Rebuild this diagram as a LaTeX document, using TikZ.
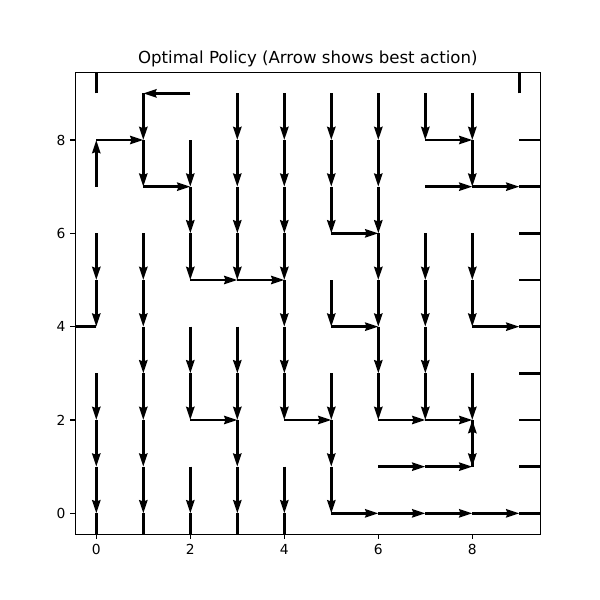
\documentclass[tikz,border=0pt]{standalone}
\usepackage{fontspec}
\setmainfont{DejaVu Sans}
\usetikzlibrary{arrows.meta}
\begin{document}
\begin{tikzpicture}[x=0.47in,y=0.4666in,
  vec/.style={line width=1.8pt,-{Stealth[length=9.5pt,width=6pt,inset=1pt]}},
  frame/.style={line width=0.8pt},
  tickmark/.style={line width=0.8pt},
  ticklabel/.style={font=\fontsize{10}{12}\selectfont,inner sep=0pt},
  titlelabel/.style={font=\fontsize{12}{14}\selectfont,inner sep=0pt,anchor=base}]
\useasboundingbox (-2.049,-1.858) rectangle (10.717,11.001);
\begin{scope}
\clip (-0.447,-0.445) rectangle (9.447,9.45);
% down
\foreach \x/\y in {1/9,3/9,4/9,5/9,6/9,7/9,8/9,
                   1/8,2/8,3/8,4/8,5/8,6/8,8/8,
                   2/7,3/7,4/7,5/7,6/7,
                   0/6,1/6,2/6,3/6,4/6,6/6,7/6,8/6,
                   0/5,1/5,4/5,5/5,6/5,7/5,8/5,
                   1/4,2/4,3/4,4/4,6/4,7/4,
                   0/3,1/3,2/3,3/3,4/3,5/3,6/3,7/3,8/3,
                   0/2,1/2,3/2,5/2,8/2,
                   0/1,1/1,2/1,3/1,4/1,5/1,
                   0/0,1/0,2/0,3/0,4/0}
  \draw[vec] (\x,\y) -- ++(0,-1);
% right
\foreach \x/\y in {0/8,7/8,9/8,1/7,7/7,8/7,9/7,5/6,9/6,2/5,3/5,9/5,
                   5/4,8/4,9/4,9/3,2/2,4/2,6/2,7/2,9/2,6/1,7/1,9/1,
                   5/0,6/0,7/0,8/0,9/0}
  \draw[vec] (\x,\y) -- ++(1,0);
% up
\foreach \x/\y in {0/9,9/9,0/7,8/1}
  \draw[vec] (\x,\y) -- ++(0,1);
% left
\foreach \x/\y in {2/9,0/4}
  \draw[vec] (\x,\y) -- ++(-1,0);
\end{scope}
\draw[frame] (-0.447,-0.445) rectangle (9.447,9.45);
\foreach \t in {0,2,4,6,8} {
  \draw[tickmark] (\t,-0.445) -- ++(0,-0.1034);
  \node[ticklabel,anchor=north] (xl\t) at (\t,-0.654) {\t};
  \draw[tickmark] (-0.447,\t) -- ++(-0.1034,0);
  \node[ticklabel,anchor=east] (yl\t) at (-0.653,\t) {\t};
}
\node[titlelabel] (title) at (4.5,9.63) {Optimal Policy (Arrow shows best action)};
\end{tikzpicture}
\end{document}
